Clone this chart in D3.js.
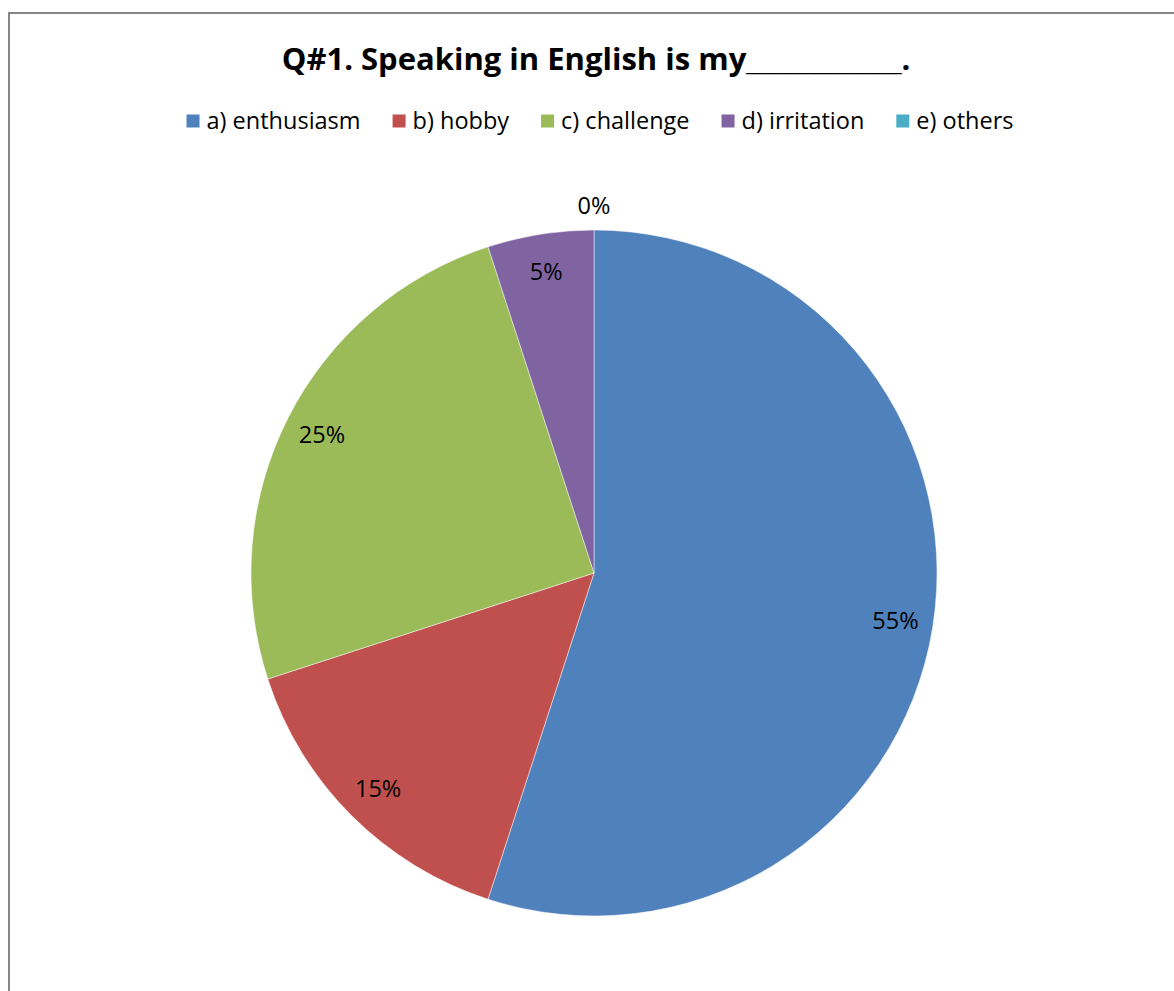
<!DOCTYPE html>
<html>
<head>
<meta charset="utf-8">
<script src="https://cdn.jsdelivr.net/npm/d3@7"></script>
<style>
  html, body { margin: 0; padding: 0; background: #fff; }
  svg { display: block; }
  text { font-family: "Open Sans", Lato, sans-serif; fill: #000; }
</style>
</head>
<body>
<svg id="chart" width="1174" height="991"></svg>
<script>
// Survey answers to Q#1 (share of respondents)
const categories = ["a) enthusiasm", "b) hobby", "c) challenge", "d) irritation", "e) others"];
const shares = [0.55, 0.15, 0.25, 0.05, 0.00];
const labels = ["55%", "15%", "25%", "5%", "0%"];
const colors = ["#4F81BD", "#C0504D", "#9BBB59", "#8064A2", "#4BACC6"];
const titleParts = ["Q#1. Speaking in English is my", "_________", "."];

const data = categories.map((c, i) => ({ category: c, value: shares[i], label: labels[i], color: colors[i] }));

const svg = d3.select("#chart");
const W = 1174, H = 991;

// Chart area frame (runs past the right and bottom edges)
svg.append("rect")
  .attr("x", 9).attr("y", 13)
  .attr("width", W).attr("height", H)
  .attr("fill", "#fff")
  .attr("stroke", "#868686")
  .attr("stroke-width", 2);

// Title; the blank is drawn with a font whose underscore is wider
const titleText = svg.append("text")
  .attr("x", 596).attr("y", 70)
  .attr("text-anchor", "middle")
  .style("font-weight", "bold")
  .style("font-size", "31px");
titleText.append("tspan").text(titleParts[0]);
titleText.append("tspan").style("font-family", "'Liberation Sans', Arial, sans-serif").text(titleParts[1]);
titleText.append("tspan").text(titleParts[2]);

// Legend, laid out from measured text widths and centred
const legend = svg.append("g").attr("class", "legend");
const sw = 13, gapText = 7, gapItem = 32;
const items = legend.selectAll("g").data(data).join("g");
items.append("rect")
  .attr("width", sw).attr("height", sw)
  .attr("y", -sw / 2)
  .attr("fill", d => d.color);
items.append("text")
  .attr("x", sw + gapText)
  .attr("y", 0)
  .attr("dy", "0.35em")
  .style("font-size", "23.5px")
  .text(d => d.category);
let xPos = 0;
items.each(function () {
  const w = d3.select(this).select("text").node().getComputedTextLength();
  d3.select(this).attr("transform", `translate(${xPos},0)`);
  xPos += sw + gapText + w + gapItem;
});
const legendWidth = xPos - gapItem;
legend.attr("transform", `translate(${600 - legendWidth / 2},121)`);

// Pie
const cx = 594, cy = 573, R = 343;
const pie = d3.pie().sort(null).value(d => d.value);
const arc = d3.arc().innerRadius(0).outerRadius(R);
const arcs = pie(data);

const g = svg.append("g").attr("transform", `translate(${cx},${cy})`);
g.selectAll("path.slice")
  .data(arcs.filter(a => a.data.value > 0))
  .join("path")
  .attr("class", "slice")
  .attr("d", arc)
  .attr("fill", d => d.data.color)
  .attr("stroke", "rgba(255,255,255,0.6)")
  .attr("stroke-width", 0.8);

// Data labels: inside near the rim, zero-size slices just outside
const inLabel = d3.arc().innerRadius(R * 0.89).outerRadius(R * 0.89);
const outLabel = d3.arc().innerRadius(R * 1.07).outerRadius(R * 1.07);
g.selectAll("text.lbl")
  .data(arcs)
  .join("text")
  .attr("class", "lbl")
  .attr("transform", d => `translate(${(d.data.value > 0 ? inLabel : outLabel).centroid(d)})`)
  .attr("text-anchor", "middle")
  .attr("dy", "0.35em")
  .style("font-size", "23.5px")
  .text(d => d.data.label);
</script>
</body>
</html>
